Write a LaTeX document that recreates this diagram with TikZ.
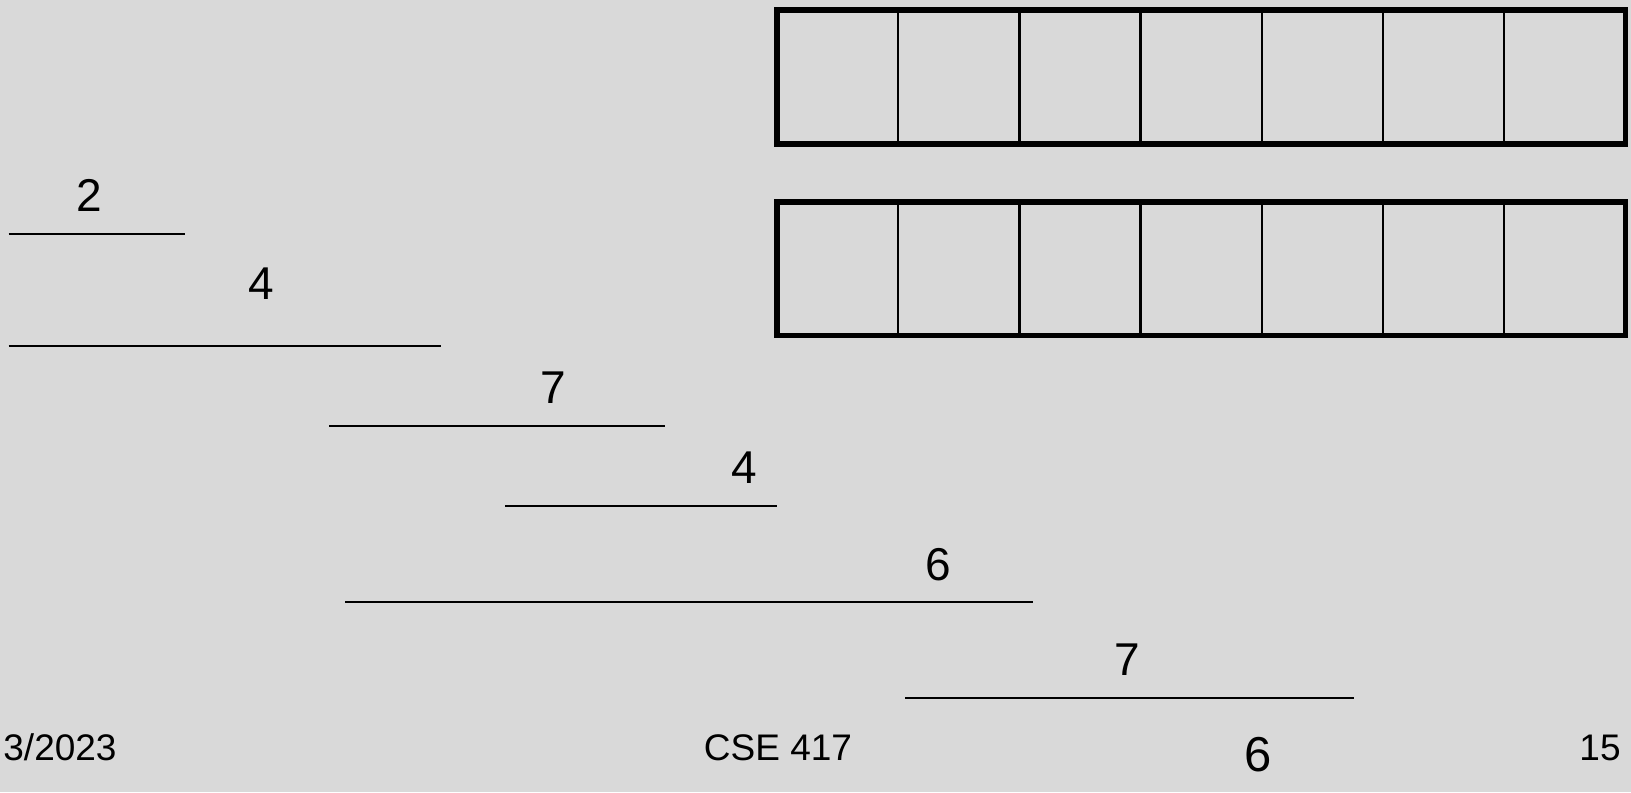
\documentclass[tikz,border=0pt]{standalone}
\usepackage{fontspec}
\setmainfont{Liberation Sans}
\usepackage{tikz}
\definecolor{slidebg}{HTML}{D9D9D9}

\begin{document}
\begin{tikzpicture}[x=0.5pt,y=-0.5pt,
  num/.style={anchor=base,inner sep=0pt,font=\fontsize{23}{27}\selectfont},
  foot/.style={anchor=base,inner sep=0pt,font=\fontsize{18.5}{22}\selectfont},
  bar/.style={line width=1pt},
  box/.style={line width=2.7pt},
  cell/.style={line width=1.2pt}]
\fill[slidebg] (0,0) rectangle (1631,792);
\useasboundingbox (0,0) rectangle (1631,792);
% the two arrays
\foreach \t/\b in {10/144,202/335.7} {
   \foreach \i in {1,...,6} {
      \draw[cell] (777+121.2*\i,\t) -- (777+121.2*\i,\b);
   }
   \draw[box] (777,\t) rectangle (1625.3,\b);
}
% intervals and their weights
\foreach \i/\xa/\xb/\y/\xl/\yl/\w in %
{1/8.7/185/233.7/89/211.7/2,
 2/8.7/441/345.7/261.7/299.3/4,
 3/329/664.8/425.7/553.6/403.3/7,
 4/505/777/505.7/743.9/483.3/4,
 5/345/1033/601.7/937.8/580/6,
 6/905/1353.8/698/1127/675/7} {
   \node[num] (w\i) at (\xl,\yl) {\w};
   \draw[bar] (\xa,\y) coordinate (s\i) -- (\xb,\y) coordinate (e\i);
}
% footer
\node[foot,anchor=base west] (date) at (3,760) {3/2023};
\node[foot] (course) at (778,760) {CSE 417};
\node[num,font=\fontsize{24.5}{29}\selectfont] (last) at (1258.6,771.7) {6};
\node[foot,anchor=base east] (page) at (1621,760) {15};
\end{tikzpicture}
\end{document}
